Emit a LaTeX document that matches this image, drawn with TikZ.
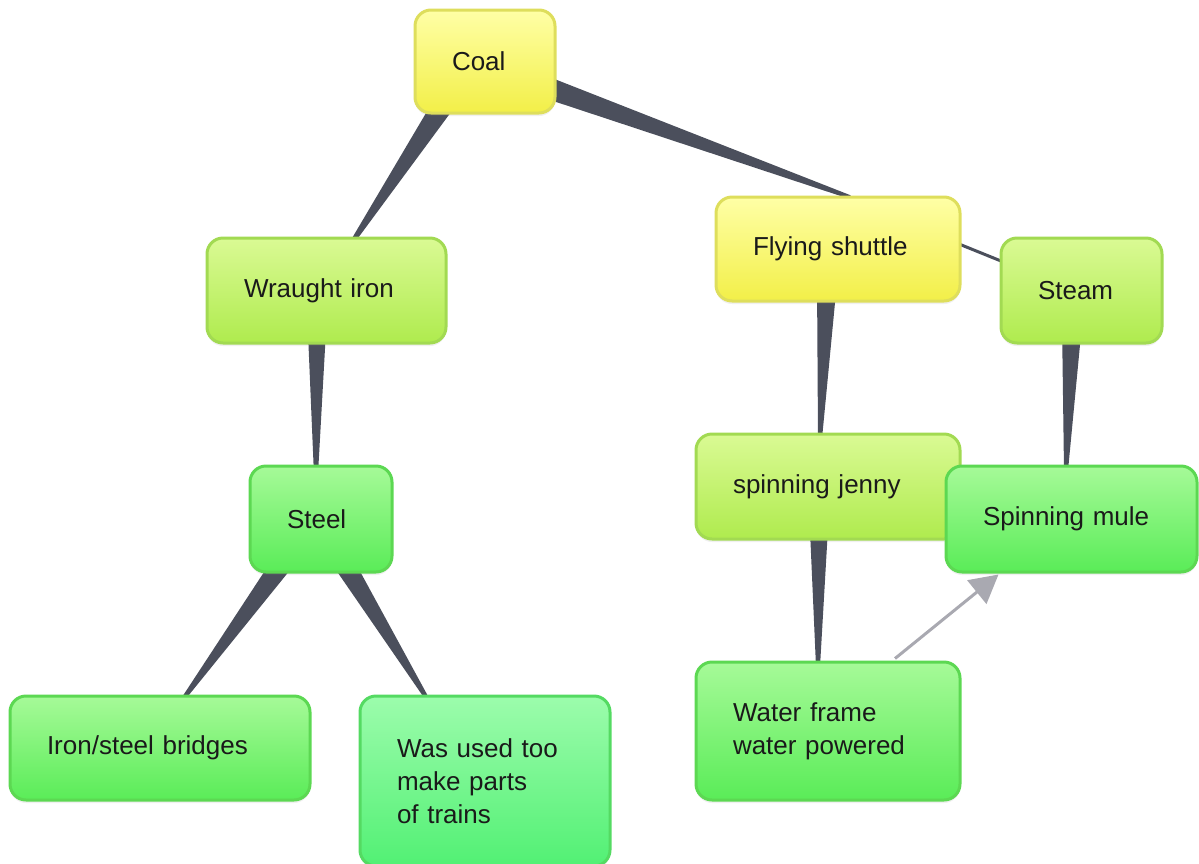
\documentclass[tikz,border=0pt]{standalone}
\usepackage{fontspec}
\setmainfont{Liberation Sans}
\usetikzlibrary{calc,backgrounds,shadows,arrows.meta}
\definecolor{conncol}{HTML}{4B4F5C}
\definecolor{arrcol}{HTML}{A9A9B1}
\definecolor{txtcol}{HTML}{1A1A1A}
\definecolor{yTop}{HTML}{FFFFA6}
\definecolor{yBot}{HTML}{F2EF48}
\definecolor{yBrd}{HTML}{DEDE5C}
\definecolor{lgTop}{HTML}{DAFA94}
\definecolor{lgBot}{HTML}{AFEB4E}
\definecolor{lgBrd}{HTML}{A2DA52}
\definecolor{gTop}{HTML}{A6FA98}
\definecolor{gBot}{HTML}{5AEC58}
\definecolor{gBrd}{HTML}{5CD852}
\definecolor{tTop}{HTML}{9CFCAC}
\definecolor{tBot}{HTML}{52F074}
\definecolor{tBrd}{HTML}{54DA62}
\tikzset{
  box/.style 2 args={rectangle, rounded corners=16pt, line width=3pt,
    minimum width=#1pt, text width=#1pt-74pt, inner xsep=37pt, inner ysep=0pt,
    minimum height=#2pt, align=left, text=txtcol,
    font=\fontsize{26pt}{33pt}\selectfont,
    drop shadow={opacity=0.12, shadow xshift=0pt, shadow yshift=-3pt}},
  yellowbox/.style={draw=yBrd, top color=yTop, bottom color=yBot},
  limebox/.style={draw=lgBrd, top color=lgTop, bottom color=lgBot},
  greenbox/.style={draw=gBrd, top color=gTop, bottom color=gBot},
  tealbox/.style={draw=tBrd, top color=tTop, bottom color=tBot},
  conn/.style={fill=conncol},
  thinconn/.style={draw=conncol, line width=3pt},
  greyarrow/.style={draw=arrcol, line width=3pt,
    -{Triangle[length=28pt, width=30pt, fill=arrcol]}}
}
% tapered connector: #1 thick point, #2 thin point, #3 half width at #1, #4 half width at #2
\newcommand\taperconn[4]{%
  \fill[conn] ($#1!#3!90:#2$) -- ($#2!#4!-90:#1$) -- ($#2!#4!90:#1$) -- ($#1!#3!-90:#2$) -- cycle;}
\begin{document}
\begin{tikzpicture}[x=1pt, y=-1pt]
\useasboundingbox (0,0) rectangle (1199,863);

\node[box={140}{103}, yellowbox] (coal) at (485,61.5) {Coal};
\node[box={239}{105}, limebox] (wraught) at (326.5,290.5) {Wraught iron};
\node[box={244}{104}, yellowbox] (fs) at (838,249) {Flying shuttle};
\node[box={161}{105}, limebox] (steam) at (1081.5,290.5) {Steam};
\node[box={142}{106}, greenbox] (steel) at (321,519) {Steel};
\node[box={264}{105}, limebox] (jenny) at (828,486.5) {spinning jenny};
\node[box={251}{106}, greenbox] (mule) at (1071.5,519) {Spinning mule};
\node[box={300}{104}, greenbox] (bridges) at (160,748) {Iron/steel bridges};
\node[box={250}{170}, tealbox] (wasused) at (485,781) {Was used too\\make parts\\of trains};
\node[box={264}{138}, greenbox] (water) at (828,731) {Water frame\\water powered};

\begin{scope}[on background layer]
  \taperconn{($(coal.center)+(-32,28.5)$)}{($(wraught.north)+(23.5,9)$)}{11.5pt}{2pt}
  \taperconn{($(coal.center)+(45,20)$)}{($(fs.north)+(12,1.6)$)}{11.25pt}{1.9pt}
  \taperconn{($(wraught.south)+(-9.5,-23)$)}{($(steel.north)+(-5,6)$)}{9.5pt}{2.2pt}
  \taperconn{($(steel.south)+(-31.4,-20.4)$)}{($(bridges.north)+(23.5,4)$)}{11pt}{2pt}
  \taperconn{($(steel.south)+(16,-21.4)$)}{($(wasused.north)+(-58,4)$)}{11pt}{2pt}
  \taperconn{($(fs.south)+(-11,-21)$)}{($(jenny.north)+(-8,6)$)}{10pt}{2pt}
  \taperconn{($(steam.south)+(-9.5,-21)$)}{($(mule.north)+(-5.5,6)$)}{10pt}{2pt}
  \taperconn{($(jenny.south)+(-9,-21)$)}{($(water.north)+(-10,6)$)}{9.5pt}{2pt}
  \draw[thinconn] ($(fs.east)+(-5,-6)$) -- ($(steam.west)+(4,-28.5)$);
\end{scope}

\draw[greyarrow] ($(water.north)+(67,-2)$) -- ($(mule.south west)+(54,1)$);
\end{tikzpicture}
\end{document}
